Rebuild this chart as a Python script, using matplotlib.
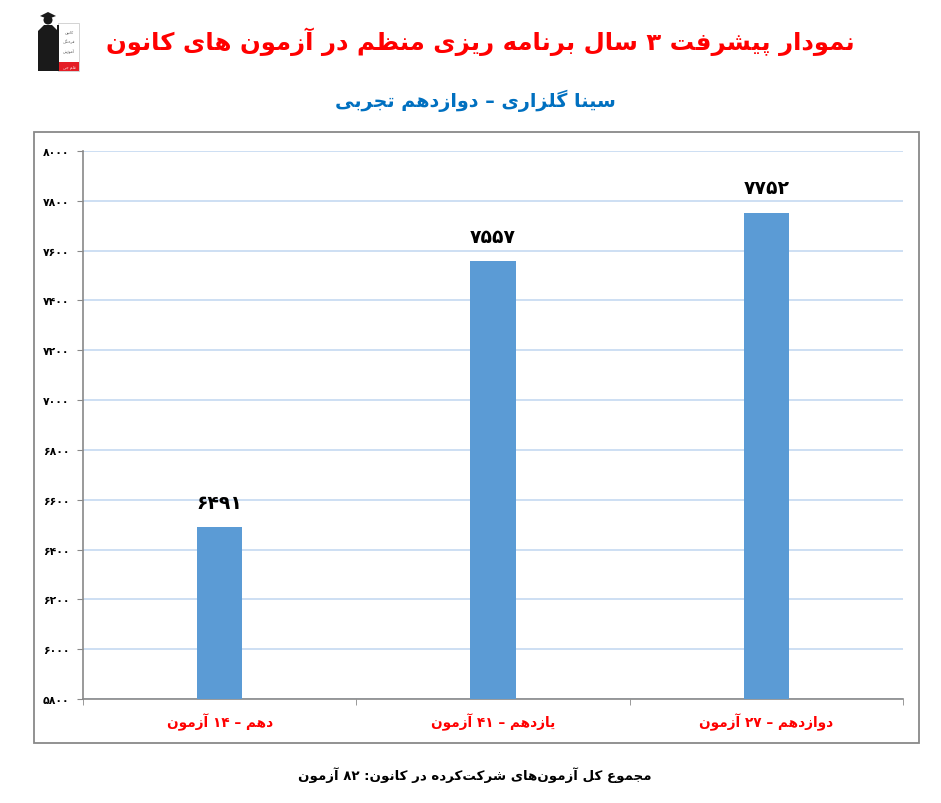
import re
import matplotlib
matplotlib.use('Agg')
import matplotlib.pyplot as plt
from matplotlib.patches import Rectangle, Circle, Polygon

# داده‌ها
title_text = 'نمودار پیشرفت ۳ سال برنامه ریزی منظم در آزمون های کانون'
subtitle_text = 'سینا گلزاری – دوازدهم تجربی'
footer_text = 'مجموع کل آزمون\u200cهای شرکت\u200cکرده در کانون: ۸۲ آزمون'
categories = ['دهم – ۱۴ آزمون', 'یازدهم – ۴۱ آزمون', 'دوازدهم – ۲۷ آزمون']
scores = [6491, 7557, 7752]
y_ticks = [5800, 6000, 6200, 6400, 6600, 6800, 7000, 7200, 7400, 7600, 7800, 8000]

# شکل‌های حروف: (جدا، پایانی، آغازی، میانی)
FORMS = {
    '\u0622': ('\uFE81', '\uFE82', None, None),
    '\u0627': ('\uFE8D', '\uFE8E', None, None),
    '\u0628': ('\uFE8F', '\uFE90', '\uFE91', '\uFE92'),
    '\u067E': ('\uFB56', '\uFB57', '\uFB58', '\uFB59'),
    '\u062A': ('\uFE95', '\uFE96', '\uFE97', '\uFE98'),
    '\u062C': ('\uFE9D', '\uFE9E', '\uFE9F', '\uFEA0'),
    '\u062F': ('\uFEA9', '\uFEAA', None, None),
    '\u0631': ('\uFEAD', '\uFEAE', None, None),
    '\u0632': ('\uFEAF', '\uFEB0', None, None),
    '\u0633': ('\uFEB1', '\uFEB2', '\uFEB3', '\uFEB4'),
    '\u0634': ('\uFEB5', '\uFEB6', '\uFEB7', '\uFEB8'),
    '\u0638': ('\uFEC5', '\uFEC6', '\uFEC7', '\uFEC8'),
    '\u0639': ('\uFEC9', '\uFECA', '\uFECB', '\uFECC'),
    '\u0641': ('\uFED1', '\uFED2', '\uFED3', '\uFED4'),
    '\u0642': ('\uFED5', '\uFED6', '\uFED7', '\uFED8'),
    '\u0686': ('\uFB7A', '\uFB7B', '\uFB7C', '\uFB7D'),
    '\u06A9': ('\uFB8E', '\uFB8F', '\uFB90', '\uFB91'),
    '\u06AF': ('\uFB92', '\uFB93', '\uFB94', '\uFB95'),
    '\u0644': ('\uFEDD', '\uFEDE', '\uFEDF', '\uFEE0'),
    '\u0645': ('\uFEE1', '\uFEE2', '\uFEE3', '\uFEE4'),
    '\u0646': ('\uFEE5', '\uFEE6', '\uFEE7', '\uFEE8'),
    '\u0647': ('\uFEE9', '\uFEEA', '\uFEEB', '\uFEEC'),
    '\u0648': ('\uFEED', '\uFEEE', None, None),
    '\u06CC': ('\uFBFC', '\uFBFD', '\uFBFE', '\uFBFF'),
}


def fa(text):
    """شکل‌دهی حروف و ترتیب نمایش راست به چپ."""
    out = []
    for i, c in enumerate(text):
        if c not in FORMS:
            out.append(c)
            continue
        prev = text[i - 1] if i > 0 else ''
        nxt = text[i + 1] if i + 1 < len(text) else ''
        iso, fin, ini, med = FORMS[c]
        join_prev = prev in FORMS and FORMS[prev][2] is not None
        join_next = nxt in FORMS and ini is not None
        if join_prev and join_next:
            out.append(med)
        elif join_prev:
            out.append(fin)
        elif join_next:
            out.append(ini)
        else:
            out.append(iso)
    s = ''.join(out).replace('\u200c', '')[::-1]
    return re.sub('[۰-۹0-9]+', lambda m: m.group(0)[::-1], s)


def fa_num(n):
    return str(n).translate(str.maketrans('0123456789', '۰۱۲۳۴۵۶۷۸۹'))


plt.rcParams['font.family'] = ['DejaVu Sans']
W, H = 941, 804
fig = plt.figure(figsize=(W / 100, H / 100), dpi=100)

# لایه‌ی زمینه برای قاب و لوگو (مختصات پیکسلی)
bg = fig.add_axes([0, 0, 1, 1], zorder=0)
bg.set_xlim(0, W)
bg.set_ylim(H, 0)
bg.axis('off')
bg.add_patch(Rectangle((34, 133), 885, 611, fill=False, ec='#898989', lw=1.3))

# لوگوی ساده
bg.add_patch(Rectangle((58, 24), 21, 48, fc='white', ec='#cccccc', lw=0.6))
bg.add_patch(Polygon([(38, 72), (38, 32), (44, 26), (52, 26), (58, 32), (58, 72)],
                     fc='#1a1a1a', ec='none'))
bg.add_patch(Circle((48, 21), 4.5, fc='#1a1a1a'))
bg.add_patch(Polygon([(40, 17), (48, 13), (56, 17), (48, 20)], fc='#1a1a1a'))
bg.add_patch(Rectangle((57, 26), 2.5, 46, fc='#1a1a1a'))
for k, w in enumerate(['کانون', 'فرهنگی', 'آموزش']):
    bg.text(69, 32 + k * 10, fa(w), fontsize=2.8, color='#555555', ha='center', va='center')
bg.add_patch(Rectangle((59.5, 63), 19.5, 9, fc='#e41e26'))
bg.text(69.5, 67.5, fa('قلم چی'), fontsize=2.8, color='white', ha='center', va='center')

# عنوان‌ها
fig.text(480 / W, 1 - 42 / H, fa(title_text), color='#ff0000', fontsize=17.6,
         fontweight='bold', ha='center', va='center')
fig.text(475 / W, 1 - 101 / H, fa(subtitle_text), color='#0070c0', fontsize=13.8,
         fontweight='bold', ha='center', va='center')
fig.text(475 / W, 1 - 775 / H, fa(footer_text), color='black', fontsize=9.6,
         fontweight='bold', ha='center', va='center')

# نمودار
ax = fig.add_axes([83 / W, 1 - 700 / H, (903 - 83) / W, (700 - 152) / H], zorder=1)
x = list(range(len(scores)))
bars = ax.bar(x, scores, width=0.165, color='#5b9bd5', zorder=3)
for xi, v in zip(x, scores):
    ax.annotate(fa_num(v), (xi, v), xytext=(0, 11), textcoords='offset points',
                ha='center', va='bottom', fontsize=13.5, fontweight='bold', color='black')

ax.set_xlim(-0.5, len(scores) - 0.5)
ax.set_ylim(y_ticks[0], y_ticks[-1])
ax.set_yticks(y_ticks)
ax.set_yticklabels([fa_num(t) for t in y_ticks], fontsize=7.8, fontweight='bold')
ax.set_xticks(x)
ax.set_xticklabels([fa(c) for c in categories], color='#ff0000', fontsize=9.8,
                   fontweight='bold')
ax.set_xticks([i - 0.5 for i in range(len(scores) + 1)], minor=True)
ax.tick_params(axis='x', which='major', length=0, pad=10)
ax.tick_params(axis='x', which='minor', length=4, color='#898989')
ax.tick_params(axis='y', length=4, color='#898989', pad=6)
ax.grid(axis='y', color='#c5d9f1', lw=1.2, zorder=0)
for side in ['top', 'right']:
    ax.spines[side].set_visible(False)
for side in ['left', 'bottom']:
    ax.spines[side].set_color('#898989')
    ax.spines[side].set_linewidth(1.2)

fig.savefig('out.png', dpi=100)
